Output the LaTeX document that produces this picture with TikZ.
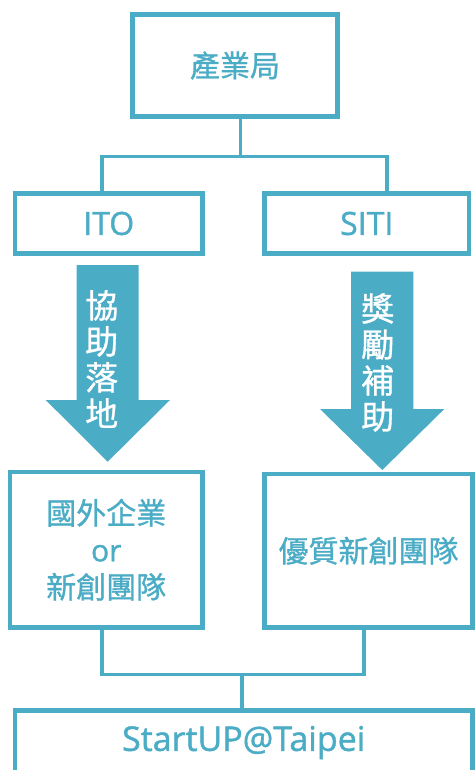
\documentclass[tikz,border=0pt]{standalone}
\usepackage{fontspec}
\setmainfont{Open Sans}[FakeBold=1.2]
\newfontfamily\cjk{Noto Sans CJK TC}[FakeBold=1.0]
\definecolor{teal}{HTML}{4BACC6}
\tikzset{
  box/.style={draw=teal, line width=4.5pt, fill=white, inner sep=0pt, text=teal, align=center},
  conn/.style={draw=teal, line width=3.5pt},
  bigarrow/.style={fill=teal, draw=none},
  arrowtext/.style={text=white, align=center, inner sep=0pt, font=\cjk\fontsize{33}{36}\selectfont},
}
\begin{document}
\begin{tikzpicture}[x=1pt,y=-1pt]
\useasboundingbox (0,0) rectangle (475,770);
% boxes
\node[box, minimum width=205pt, minimum height=102pt, font=\cjk\fontsize{30}{36}\selectfont] (top) at (235,65.5) {產業局};
\node[box, minimum width=187.5pt, minimum height=60pt, font=\fontsize{32}{36}\selectfont] (ito) at (108.75,223.5) {ITO};
\node[box, minimum width=204.5pt, minimum height=60pt, font=\fontsize{32}{36}\selectfont] (siti) at (366.75,223.5) {SITI};
\node[box, minimum width=192.5pt, minimum height=155.5pt, font=\fontsize{30}{37}\selectfont] (lb) at (106.25,549.75) {{\cjk 國外企業}\\or\\{\cjk 新創團隊}};
\node[box, minimum width=208pt, minimum height=153.5pt, font=\cjk\fontsize{30}{36}\selectfont] (rb) at (368.5,550.75) {優質新創團隊};
\node[box, minimum width=457.5pt, minimum height=64pt, font=\fontsize{34}{40}\selectfont] (su) at (243.75,742.5) {StartUP@Taipei};
% connectors
\coordinate (jc) at (240.7,156.5);
\coordinate (jl) at (102,156.5);
\coordinate (jr) at (387,156.5);
\draw[conn] (top.south -| jc) -- (jc);
\draw[conn] (jl |- ito.north) -- (jl) -- (jr) -- (jr |- siti.north);
\coordinate (bl) at (102,674.7);
\coordinate (br) at (364,674.7);
\coordinate (bc) at (242,674.7);
\draw[conn] (bl |- lb.south) -- (bl) -- (br) -- (br |- rb.south);
\draw[conn] (bc) -- (bc |- su.north);
% big arrows
\fill[bigarrow] (76.7,265) -- (138.7,265) -- (138.7,400) -- (170,400) -- (107.7,461.7) -- (45.7,400) -- (76.7,400) -- cycle;
\fill[bigarrow] (351,271.7) -- (413.3,271.7) -- (413.3,409) -- (444.3,409) -- (382.3,470) -- (320,409) -- (351,409) -- cycle;
\node[arrowtext] (t1) at (101.7,359) {協\\助\\落\\地};
\node[arrowtext] (t2) at (377.7,362.5) {獎\\勵\\補\\助};
\end{tikzpicture}
\end{document}
